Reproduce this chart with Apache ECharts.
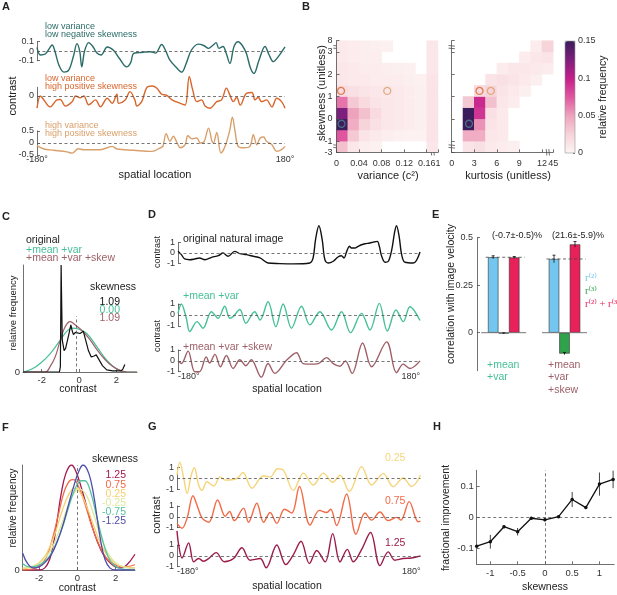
<!DOCTYPE html>
<html>
<head>
<meta charset="utf-8">
<script src="https://cdn.jsdelivr.net/npm/echarts@6/dist/echarts.min.js"></script>
<style>
  html, body { margin: 0; padding: 0; background: #fff; }
  #fig { width: 617px; height: 595px; }
</style>
</head>
<body>
<div id="fig"></div>
<script>
// ---------- data ----------
// A: example contrast traces, [spatial location (deg), contrast]
const traceLowVarNegSkew = [[-180,0.04],[-175,-0.04],[-168,-0.03],[-162,0.03],[-158,0.065],[-154,0.0],[-148,-0.15],[-141,-0.22],[-134,-0.2],[-127,-0.05],[-122,0.08],[-118,0.0],[-115,-0.165],[-111,0.0],[-105,0.09],[-99,0.05],[-93,-0.02],[-87,-0.04],[-78,0.045],[-69,0.01],[-60,-0.08],[-50,-0.165],[-44,-0.12],[-40,-0.025],[-32,-0.015],[-25,-0.01],[-15,-0.005],[-8,-0.02],[1,0.07],[7,0.0],[13,-0.095],[22,-0.17],[30,-0.22],[37,-0.12],[44,0.01],[54,0.075],[62,0.06],[69,0.03],[75,0.06],[80,0.09],[84,0.03],[90,0.05],[95,-0.03],[100,-0.13],[106,0.05],[112,0.1],[118,0.06],[124,-0.025],[130,-0.18],[135,-0.235],[142,-0.1],[151,0.05],[157,-0.04],[163,-0.11],[170,-0.06],[180,0.045]];
const traceLowVarPosSkew = [[-180,-0.28],[-175,0],[-170,-0.09],[-161,-0.25],[-151,-0.09],[-146,-0.08],[-139,-0.23],[-129,-0.13],[-124,0],[-117,-0.04],[-112,0],[-105,-0.2],[-95,-0.09],[-88,-0.25],[-78,-0.05],[-71,-0.17],[-64,0.04],[-61.5,-0.17],[-52,-0.09],[-45,0.1],[-38,-0.09],[-35,-0.23],[-28,-0.13],[-20.5,0.2],[-13,0.23],[-6,0.18],[1,0.04],[8,0.02],[16,-0.09],[28,-0.17],[35,-0.21],[41,0.45],[46,0.14],[52,-0.13],[59,-0.09],[64,-0.23],[71,-0.28],[81,-0.13],[88,-0.09],[95,0.18],[100,0.02],[105,-0.13],[110,-0.03],[115,-0.21],[124,0.06],[132,0.08],[136.5,-0.09],[141,-0.03],[146,-0.13],[153,-0.09],[161,-0.25],[168,-0.05],[175,-0.13],[180,-0.28]];
const traceHighVarPosSkew = [[-180,-0.11],[-170,-0.25],[-156,-0.3],[-136.5,-0.37],[-129,-0.42],[-120,-0.24],[-112,-0.28],[-88,-0.28],[-71,-0.14],[-64,-0.25],[-40,-0.3],[-13,-0.35],[-1,-0.2],[2.7,-0.14],[7.5,0.39],[13,0.07],[18,0.28],[23,0.03],[28,-0.2],[35,-0.07],[39,0.3],[45,0.17],[52,0.21],[57,0],[62,0.03],[69,0.62],[74,0.07],[76,0],[81,0.44],[87,-0.42],[93,-0.14],[100,0.55],[103.6,1.08],[107.5,0.49],[112,-0.14],[120,-0.2],[129,-0.14],[134,0.35],[139,-0.07],[144,0.21],[149,0.25],[153,0.07],[161,-0.07],[168,-0.35],[175,-0.28],[180,-0.14]];

// B: 2-D histograms, bin edges and relative frequency (rows = skewness bins, bottom to top)
const varEdges = [0, 0.02, 0.04, 0.06, 0.08, 0.10, 0.12, 0.14, 0.16, 1];
const kurtEdges = [0, 1.5, 3, 4.5, 6, 7.5, 9, 10.5, 12, 45];
const skewEdges = [-3, -1, -0.5, 0, 0.5, 1, 1.5, 2, 2.5, 3, 8];
const varTickIdx = [0, 2, 4, 6, 8, 9];
const kurtTickIdx = [0, 2, 4, 6, 8, 9];
const skewTickIdx = [0, 1, 3, 5, 7, 9, 10];
const histVarSkew = [
  [0.035, 0.01, 0.005, 0.003, 0, 0, 0, 0, 0.01],
  [0.075, 0.03, 0.012, 0.008, 0.005, 0.003, 0.002, 0.002, 0.012],
  [0.15, 0.045, 0.025, 0.015, 0.01, 0.008, 0.006, 0.004, 0.012],
  [0.125, 0.05, 0.035, 0.02, 0.01, 0.008, 0.006, 0.004, 0.012],
  [0.065, 0.03, 0.02, 0.012, 0.01, 0.008, 0.006, 0.004, 0.012],
  [0.02, 0.015, 0.012, 0.01, 0.01, 0.008, 0.006, 0.004, 0.012],
  [0.01, 0.008, 0.008, 0.006, 0.006, 0.006, 0.004, 0.003, 0.012],
  [0.01, 0.008, 0.006, 0.006, 0.005, 0.004, 0.003, 0, 0.01],
  [0.008, 0.006, 0.005, 0.005, 0, 0, 0, 0, 0.01],
  [0.008, 0.006, 0.005, 0.004, 0.003, 0, 0, 0, 0.01]
];
const histKurtSkew = [
  [0, 0.012, 0.015, 0.008, 0.006, 0.004, 0, 0, 0],
  [0, 0.045, 0.045, 0.01, 0.008, 0, 0, 0, 0],
  [0, 0.15, 0.055, 0.012, 0.008, 0, 0, 0, 0],
  [0, 0.15, 0.09, 0.015, 0.008, 0, 0, 0, 0],
  [0, 0.03, 0.095, 0.035, 0.01, 0.006, 0, 0, 0],
  [0, 0, 0.02, 0.025, 0.012, 0.008, 0.004, 0, 0],
  [0, 0, 0, 0.012, 0.015, 0.012, 0.008, 0.004, 0],
  [0, 0, 0, 0, 0.006, 0.01, 0.01, 0.008, 0.006],
  [0, 0, 0, 0, 0, 0, 0.006, 0.01, 0.012],
  [0, 0, 0, 0, 0, 0, 0, 0.006, 0.025]
];
const exampleVar = [0.009, 0.008, 0.09];
const exampleKurt = [2.3, 3.7, 5.2];
const exampleSkew = [-0.22, 1.25, 1.25];
const colorbarTicks = [0, 0.05, 0.1, 0.15];

// C: contrast distributions, [contrast, relative frequency]
const distOriginal = [[-3,0],[-1.05,0],[-1.0,0.05],[-0.96,1.0],[-0.9,0.3],[-0.8,0.2],[-0.72,0.22],[-0.55,0.35],[-0.44,0.44],[-0.36,0.38],[-0.3,0.35],[-0.2,0.37],[-0.12,0.38],[0.05,0.36],[0.23,0.38],[0.35,0.3],[0.5,0.2],[0.65,0.14],[0.8,0.15],[0.92,0.16],[1.05,0.12],[1.25,0.06],[1.48,0.02],[1.8,0.01],[2.25,0.01],[2.35,0.03],[2.45,0.07]];
const distMeanVar = [[-3,0],[-2.88,0.005],[-2.5,0.03],[-2.08,0.08],[-1.55,0.17],[-1.0,0.3],[-0.66,0.38],[-0.39,0.41],[0,0.4],[0.41,0.36],[0.94,0.24],[1.48,0.11],[2.0,0.03],[2.54,0.0],[3.1,0]];
const distMeanVarSkew = [[-3,0],[-1.8,0.0],[-1.55,0.05],[-1.28,0.14],[-1.0,0.3],[-0.75,0.42],[-0.48,0.47],[-0.2,0.44],[0.14,0.39],[0.55,0.31],[1.08,0.18],[1.6,0.08],[2.13,0.02],[2.6,0],[3.1,0]];
const distMeanLine = [[-0.15, 0], [-0.15, 0.52]];
const cSkewValues = ['1.09', '0.00', '1.09'];

// D: synthetic images
const traceOriginal = [[-180,0.16],[-175,-0.16],[-170,-0.58],[-162.6,-0.65],[-155,-0.58],[-148,-0.48],[-140,-0.65],[-130,-0.42],[-120,-0.26],[-113,0],[-105.5,-0.32],[-95.6,0.16],[-88,-0.06],[-78,-0.16],[-68,-0.32],[-58,-0.48],[-46,-0.97],[-28.5,-1.03],[-8.7,-1.06],[16,-0.97],[21,-0.48],[24.6,1.3],[29.6,2.65],[34.5,1.3],[38.5,-0.65],[43.5,-0.97],[51,-0.8],[58,-0.39],[63,-0.26],[67,-0.48],[71,0.16],[75,0.65],[78,0.48],[83,0.48],[88,0.65],[93,0.8],[98,0.9],[105.5,0.97],[110.5,1.06],[116.5,1.13],[119.5,0.65],[123,-0.32],[128,-0.9],[133,-0.8],[138,0.32],[142,1.94],[145,2.65],[149,1.6],[152.7,-0.16],[157.7,-0.9],[170,-0.97],[180,0.1]];
const traceMeanVar = [[-180,0.15],[-175,1.0],[-167.6,-0.3],[-162.6,-1.5],[-151.7,-0.6],[-142.8,-1.2],[-130.3,0.3],[-120.4,-0.3],[-110.5,0.8],[-103,-0.3],[-98,-0.15],[-88,0.5],[-79,-0.75],[-66,0.3],[-58,-0.45],[-46,1.2],[-34.5,-1.06],[-23.6,1.0],[-11.2,-1.2],[3.7,0.8],[16.2,-0.9],[31,0.3],[48.4,-1.36],[63.3,0.3],[76.7,-1.6],[93,0.15],[105.5,-1.36],[119.5,1.06],[131.4,-1.45],[144.3,0.45],[155.2,-0.6],[165,0.75],[180,-0.5]];
const traceMeanVarSkew = [[-180,0],[-175,-0.25],[-165,0.9],[-155,-1.0],[-148,-1.0],[-138,0.37],[-133,-0.2],[-125,0.6],[-117,-0.55],[-108,0.5],[-98,-0.7],[-88,0.1],[-79,-0.45],[-71,0.1],[-56,-1.5],[-46,-0.25],[-36,-1.15],[-18.6,0.05],[-3.7,0.75],[6.2,-0.25],[18.6,-0.3],[28.6,-0.25],[41,0.3],[51,-0.25],[61,-0.5],[69,0],[79,-1.15],[94.6,1.65],[108,-0.55],[130.4,1.75],[145,-1.1],[155,-0.3],[165,-0.7],[180,0]];

// E: correlation with image velocity
const eGroups = ['+mean +var', '+mean +var +skew'];
const r2Vals = [0.397, 0.388];
const r3Vals = [-0.004, -0.11];
const r23Vals = [0.396, 0.465];
const r2Err = [0.008, 0.02];
const r3Err = [0.003, 0.006];
const r23Err = [0.005, 0.015];
const eNotes = ['(-0.7\u00b1-0.5)%', '(21.6\u00b1-5.9)%'];

// F: distributions by skewness
const fSkewLabels = ['1.25', '0.75', '0.25', '-0.25', '-0.75', '-1.25'];
const fDists = [
  [[-2.86,0],[-2.0,0.0],[-1.7,0.02],[-1.45,0.1],[-1.25,0.25],[-1.05,0.48],[-0.85,0.72],[-0.6,0.92],[-0.3,1.0],[-0.1,0.95],[0.15,0.82],[0.45,0.63],[0.75,0.43],[1.05,0.27],[1.35,0.15],[1.7,0.07],[2.0,0.03],[2.3,0.02],[2.6,0.05],[3.02,0.15]],
  [[-2.86,0],[-2.3,0.01],[-1.9,0.05],[-1.6,0.13],[-1.3,0.3],[-1.0,0.52],[-0.7,0.74],[-0.4,0.85],[-0.2,0.86],[0.05,0.8],[0.35,0.66],[0.7,0.45],[1.0,0.3],[1.35,0.16],[1.7,0.08],[2.1,0.04],[2.5,0.03],[3.02,0.05]],
  [[-2.86,0.01],[-2.4,0.03],[-2.0,0.07],[-1.6,0.16],[-1.2,0.33],[-0.8,0.56],[-0.45,0.72],[-0.15,0.78],[0.15,0.74],[0.5,0.6],[0.9,0.4],[1.3,0.22],[1.7,0.11],[2.1,0.05],[2.5,0.03],[3.02,0.02]],
  [[-2.86,0.02],[-2.5,0.03],[-2.1,0.05],[-1.7,0.11],[-1.3,0.22],[-0.9,0.4],[-0.5,0.6],[-0.15,0.74],[0.1,0.77],[0.45,0.72],[0.8,0.56],[1.2,0.33],[1.6,0.16],[2.0,0.07],[2.4,0.03],[3.02,0.01]],
  [[-2.86,0.06],[-2.5,0.03],[-2.1,0.04],[-1.7,0.08],[-1.35,0.16],[-1.0,0.3],[-0.7,0.45],[-0.35,0.66],[-0.05,0.8],[0.2,0.85],[0.4,0.85],[0.7,0.74],[1.0,0.52],[1.3,0.3],[1.6,0.13],[1.9,0.05],[2.3,0.01],[3.02,0]],
  [[-2.86,0.16],[-2.6,0.06],[-2.3,0.02],[-2.0,0.03],[-1.7,0.07],[-1.35,0.15],[-1.05,0.27],[-0.75,0.43],[-0.45,0.63],[-0.15,0.82],[0.1,0.95],[0.3,1.0],[0.6,0.92],[0.85,0.72],[1.05,0.48],[1.25,0.25],[1.45,0.1],[1.7,0.02],[2.0,0],[3.02,0]]
];

// G: synthetic images with set skewness
const gSkewLabels = ['0.25', '0.75', '1.25'];
const traceSkew025 = [[-180,0.3],[-176,1.5],[-170,0],[-165,-1.4],[-159,0.3],[-154.4,1.0],[-148,-0.6],[-143,-1.1],[-135.7,-0.3],[-126,-0.7],[-116,0.15],[-108.7,-0.15],[-91.5,0],[-82.6,0.55],[-69.3,-0.9],[-52,0.25],[-42,0.15],[-31.5,0.9],[-22.6,0.75],[-8,-1.1],[7,0.5],[21.6,-0.6],[36.4,0.5],[50.2,-0.35],[61,0.3],[74.8,-1.2],[93,1.1],[107.7,-0.6],[125,0.45],[139.7,-0.75],[154.4,0.05],[166.7,-0.75],[180,0.3]];
const traceSkew075 = [[-180,-0.6],[-172.6,-1.05],[-165,-0.1],[-156.4,1.95],[-150.5,1.1],[-143,-0.1],[-133,-0.5],[-120,1.55],[-108.7,0.05],[-102.3,0.5],[-95.4,-0.35],[-81.6,0.8],[-74.3,-0.5],[-62,1.25],[-52,-0.5],[-42.3,0.4],[-32.5,-0.6],[-21,0.7],[-10.3,0.35],[1,2.8],[16.7,-0.75],[30.5,0.6],[41.3,0.4],[47.2,0.7],[56,-0.8],[70.8,2.1],[84.6,-1.6],[98,0.35],[107.7,-0.3],[120,0.45],[132.3,-0.35],[144.6,-0.05],[151,-0.3],[163.3,1.4],[176.6,-0.45],[180,-0.4]];
const traceSkew125 = [[-180,2.3],[-177.5,1.0],[-172.6,-0.2],[-162.8,1.2],[-155.4,-0.55],[-148,-0.25],[-140.7,-0.5],[-133.3,-0.25],[-122,0.3],[-110.2,-0.55],[-96.4,-0.25],[-84,0.75],[-71.8,-0.4],[-57,-0.25],[-48.2,-1.1],[-32.5,1.0],[-19.2,-0.8],[-8,0.1],[3.4,1.35],[15.7,-0.7],[26.6,0.5],[39,-0.55],[50.2,2.05],[61,-0.55],[71.8,0.6],[80.7,-0.55],[93,0.6],[106.2,2.15],[120,-0.9],[132.3,0.37],[142,-0.4],[154.4,-0.25],[166.7,-0.2],[180,0]];

// H: fractional improvement vs skewness
const hSkew = [-1.25, -1, -0.75, -0.5, -0.25, 0, 0.25, 0.5, 0.75, 1, 1.25];
const hImprove = [-0.092, -0.078, -0.03, -0.046, -0.003, -0.008, 0.002, 0.057, 0.031, 0.106, 0.121];
const hErr = [0.004, 0.022, 0.005, 0.012, 0.004, 0.005, 0.003, 0.024, 0.005, 0.037, 0.028];

// ---------- styling ----------
const FONT = "'Liberation Sans', Arial, Helvetica, sans-serif";
const SERIF = "'Liberation Serif', 'DejaVu Serif', 'Times New Roman', serif";
const AX = '#4d4d4d';
const TEAL = '#2b6c68', ORANGE = '#d8652b', TAN = '#d9a06b';
const GREEN = '#45bf98', MAUVE = '#9e5f67';
const exampleColors = ['#537f8f', ORANGE, TAN];
const fColors = ['#a0184e', '#f26a47', '#f6d06c', '#dde79c', '#56c3a0', '#4e4ca8'];
const gColors = ['#f5d47a', '#f26a47', '#9b1b4b'];
const heatColors = ['#fdf4f4', '#f7d3da', '#eea3bd', '#e0559f', '#c41f8a', '#7d1f7c', '#3b1c5c'];

const grids = [], xAxes = [], yAxes = [], series = [], texts = [];

function merge(a, b) {
  for (const k in b) {
    const v = b[k];
    if (v && typeof v === 'object' && !Array.isArray(v) && a[k] && typeof a[k] === 'object') merge(a[k], v);
    else a[k] = v;
  }
  return a;
}
function addGrid(r) {
  grids.push(Object.assign({containLabel: false, outerBoundsMode: 'none'}, r));
  return grids.length - 1;
}
function baseAxis(g) {
  return {
    gridIndex: g, type: 'value',
    axisLine: {show: true, onZero: false, lineStyle: {color: AX, width: 0.8}},
    axisTick: {show: true, inside: true, length: 3, lineStyle: {color: AX, width: 0.8}},
    axisLabel: {show: true, fontSize: 9, color: '#333', fontFamily: FONT, margin: 3},
    splitLine: {show: false}
  };
}
function dashMark(items) {
  return {silent: true, symbol: ['none', 'none'], label: {show: false}, emphasis: {disabled: true},
    lineStyle: {color: '#555', type: [3, 2.5], width: 0.8}, data: items};
}
function txt(x, y, s, o) {
  o = o || {};
  texts.push({type: 'text', x, y, rotation: o.rot || 0, silent: true, z: 20,
    style: {text: s, fontSize: o.size || 10, fill: o.color || '#222', fontFamily: o.font || FONT,
      fontWeight: o.bold ? 'bold' : 'normal', align: o.align || 'left', verticalAlign: 'middle'}});
}
// axis break symbol ("=" across an axis line)
function axisBreak(x, y, vertical) {
  const w = 3.2, g = 1.3;
  const lines = vertical
    ? [[x - w, y - g, x + w, y - g + 0.6], [x - w, y + g, x + w, y + g + 0.6]]
    : [[x - g, y - w, x - g + 0.6, y + w], [x + g, y - w, x + g + 0.6, y + w]];
  texts.push({type: 'group', silent: true, z: 20, children: [
    {type: 'rect', shape: vertical ? {x: x - w, y: y - g, width: 2 * w, height: 2 * g} : {x: x - g, y: y - w, width: 2 * g, height: 2 * w},
      style: {fill: '#fff'}},
    ...lines.map(l => ({type: 'line', shape: {x1: l[0], y1: l[1], x2: l[2], y2: l[3]}, style: {stroke: AX, lineWidth: 0.8}}))
  ]});
}
function binPos(v, edges) {
  for (let i = 0; i < edges.length - 1; i++) {
    if (v < edges[i + 1]) return i + (v - edges[i]) / (edges[i + 1] - edges[i]);
  }
  return edges.length - 1;
}

function tracePanel(rect, lim, data, color, showX, alignEnds) {
  const g = addGrid(rect);
  const xi = xAxes.push(merge(baseAxis(g), {
    min: -180, max: 180,
    axisLine: {show: false}, axisTick: {show: false},
    axisLabel: {show: showX, customValues: [-180, 180], formatter: v => v + '\u00b0', margin: 0,
      alignMinLabel: alignEnds ? 'left' : 'center', alignMaxLabel: alignEnds ? 'right' : 'center'}
  })) - 1;
  const yi = yAxes.push(merge(baseAxis(g), {
    min: -lim, max: lim,
    axisTick: {customValues: [-lim, 0, lim]},
    axisLabel: {customValues: [-lim, 0, lim]}
  })) - 1;
  series.push({type: 'line', xAxisIndex: xi, yAxisIndex: yi, data, clip: false, smooth: 0.35,
    symbol: 'none', silent: true, lineStyle: {color, width: 1.4},
    markLine: dashMark([{yAxis: 0}])});
}

// ---------- panel A ----------
tracePanel({left: 37, top: 41.7, width: 248, height: 19}, 0.1, traceLowVarNegSkew, TEAL, false, false);
tracePanel({left: 37, top: 87.3, width: 248, height: 17.4}, 0.2, traceLowVarPosSkew, ORANGE, false, false);
tracePanel({left: 37, top: 131, width: 248, height: 24}, 0.5, traceHighVarPosSkew, TAN, true, false);
txt(2, 7, 'A', {bold: true, size: 11});
txt(45, 26.7, 'low variance', {color: TEAL, size: 9});
txt(45, 34.2, 'low negative skewness', {color: TEAL, size: 9});
txt(45, 78.3, 'low variance', {color: ORANGE, size: 9});
txt(45, 86.3, 'high positive skewness', {color: ORANGE, size: 9});
txt(45, 126, 'high variance', {color: TAN, size: 9});
txt(45, 133.7, 'high positive skewness', {color: TAN, size: 9});
txt(13, 96, 'contrast', {rot: Math.PI / 2, align: 'center', size: 11});
txt(155, 175, 'spatial location', {align: 'center', size: 11});

// ---------- panel B ----------
const sHeat = [];
const HEAT_TOP = 40.7, HEAT_H = 111.6, HEAT_W = 101.5;
function heatPanel(left, edges, tickIdx, hist, exampleX, showY) {
  const rect = {left, top: HEAT_TOP, width: HEAT_W, height: HEAT_H};
  const gh = addGrid(rect);
  const xh = xAxes.push({gridIndex: gh, type: 'category', show: false, data: edges.slice(0, -1).map(String)}) - 1;
  const yh = yAxes.push({gridIndex: gh, type: 'category', show: false, data: skewEdges.slice(0, -1).map(String)}) - 1;
  const cells = [];
  hist.forEach((row, r) => row.forEach((v, c) => { if (v > 0) cells.push([c, r, v]); }));
  sHeat.push(series.length);
  series.push({type: 'heatmap', xAxisIndex: xh, yAxisIndex: yh, data: cells, silent: true,
    itemStyle: {borderWidth: 0}, emphasis: {disabled: true}});
  const go = addGrid(rect);
  const xo = xAxes.push(merge(baseAxis(go), {
    min: 0, max: edges.length - 1, z: 5,
    axisTick: {customValues: tickIdx}, axisLabel: {customValues: tickIdx, formatter: v => String(edges[v]), margin: 7}
  })) - 1;
  const yo = yAxes.push(merge(baseAxis(go), {
    min: 0, max: skewEdges.length - 1, z: 5,
    axisTick: {customValues: skewTickIdx},
    axisLabel: {show: showY, customValues: skewTickIdx, formatter: v => String(skewEdges[v]), margin: 4}
  })) - 1;
  series.push({type: 'scatter', xAxisIndex: xo, yAxisIndex: yo, symbolSize: 7, silent: true, z: 6,
    itemStyle: {color: 'rgba(0,0,0,0)', borderWidth: 1.3},
    data: exampleX.map((v, i) => ({value: [binPos(v, edges), binPos(exampleSkew[i], skewEdges)],
      itemStyle: {borderColor: exampleColors[i]}}))});
  // breaks on the compressed outer bins
  const cw = HEAT_W / (edges.length - 1), rh = HEAT_H / (skewEdges.length - 1);
  axisBreak(left, HEAT_TOP + HEAT_H - rh * 0.55, true);
  axisBreak(left, HEAT_TOP + rh * 0.55, true);
  axisBreak(left + HEAT_W - cw * 0.5, HEAT_TOP + HEAT_H, false);
}
heatPanel(336.5, varEdges, varTickIdx, histVarSkew, exampleVar, true);
heatPanel(451.7, kurtEdges, kurtTickIdx, histKurtSkew, exampleKurt, false);

const gCB = addGrid({left: 565, top: 41, width: 10, height: 112, show: true, borderColor: '#999', borderWidth: 0.6, z: 10, backgroundColor: 'rgba(0,0,0,0)'});
xAxes.push({gridIndex: gCB, type: 'value', show: false});
yAxes.push(merge(baseAxis(gCB), {
  position: 'right', min: 0, max: 0.15, axisLine: {show: false},
  axisTick: {customValues: colorbarTicks, length: 2}, axisLabel: {customValues: colorbarTicks, margin: 3}
}));
txt(302, 7, 'B', {bold: true, size: 11});
txt(322, 93, 'skewness (unitless)', {rot: Math.PI / 2, align: 'center', size: 11});
txt(388, 176, 'variance (c\u00b2)', {align: 'center', size: 11});
txt(508, 176, 'kurtosis (unitless)', {align: 'center', size: 11});
txt(603, 97, 'relative frequency', {rot: Math.PI / 2, align: 'center', size: 10.5});

// ---------- panel C ----------
const gC = addGrid({left: 23, top: 265, width: 114, height: 107});
const xC = xAxes.push(merge(baseAxis(gC), {min: -3, max: 3.1,
  axisTick: {customValues: [-2, 0, 2]}, axisLabel: {customValues: [-2, 0, 2], fontSize: 9.5}})) - 1;
const yC = yAxes.push(merge(baseAxis(gC), {min: 0, max: 1,
  axisTick: {customValues: [0]}, axisLabel: {customValues: [0], fontSize: 9.5}})) - 1;
[[distMeanVar, GREEN, 0.4], [distMeanVarSkew, MAUVE, 0.4], [distOriginal, '#111', 0]].forEach(([d, c, sm]) => {
  series.push({type: 'line', xAxisIndex: xC, yAxisIndex: yC, data: d, smooth: sm, symbol: 'none', silent: true,
    lineStyle: {color: c, width: 1.2}});
});
series.push({type: 'line', xAxisIndex: xC, yAxisIndex: yC, data: [], silent: true,
  markLine: dashMark([[{coord: distMeanLine[0]}, {coord: distMeanLine[1]}]])});
txt(2, 217, 'C', {bold: true, size: 11});
txt(26, 240, 'original', {size: 10.5});
txt(26, 249.7, '+mean +var', {size: 10.5, color: GREEN});
txt(26, 258.3, '+mean +var +skew', {size: 10.5, color: MAUVE});
txt(136, 287, 'skewness', {align: 'right', size: 10.5});
[['#111', 302], [GREEN, 310], [MAUVE, 318]].forEach(([c, y], i) => txt(120, y, cSkewValues[i], {align: 'right', size: 10.5, color: c}));
txt(13, 313, 'relative frequency', {rot: Math.PI / 2, align: 'center', size: 9.5});
txt(78, 389, 'contrast', {align: 'center', size: 10.5});

// ---------- panel D ----------
tracePanel({left: 178, top: 242.7, width: 242, height: 20.6}, 1, traceOriginal, '#111', false, true);
tracePanel({left: 178, top: 304, width: 242, height: 22}, 1, traceMeanVar, GREEN, false, true);
tracePanel({left: 178, top: 350, width: 242, height: 21.7}, 1, traceMeanVarSkew, MAUVE, true, true);
txt(148, 215, 'D', {bold: true, size: 11});
txt(183, 239, 'original natural image', {size: 10.5});
txt(183, 296, '+mean +var', {size: 10.5, color: GREEN});
txt(183, 346.7, '+mean +var +skew', {size: 10.5, color: MAUVE});
txt(158, 252, 'contrast', {rot: Math.PI / 2, align: 'center', size: 9});
txt(158, 336, 'contrast', {rot: Math.PI / 2, align: 'center', size: 9});
txt(287, 389, 'spatial location', {align: 'center', size: 10.5});

// ---------- panel E ----------
const gE = addGrid({left: 473.3, top: 237.7, width: 121.6, height: 133});
const xE = xAxes.push({gridIndex: gE, type: 'category', data: eGroups, axisLine: {show: false},
  axisTick: {show: false}, axisLabel: {show: false}, splitLine: {show: false}}) - 1;
const yE = yAxes.push(merge(baseAxis(gE), {min: -0.2, max: 0.5, offset: -3.7,
  axisTick: {customValues: [0, 0.25, 0.5]}, axisLabel: {customValues: [0, 0.25, 0.5], margin: 4}})) - 1;
[[r2Vals, '#72c6ef'], [r3Vals, '#2fa24b'], [r23Vals, '#e9215b']].forEach(([vals, c]) => {
  series.push({type: 'bar', xAxisIndex: xE, yAxisIndex: yE, data: vals, barWidth: 10.5, barGap: '0%',
    silent: true, itemStyle: {color: c, borderColor: '#333', borderWidth: 0.6}});
});
series.push({type: 'custom', xAxisIndex: xE, yAxisIndex: yE, silent: true, z: 4,
  data: eGroups.map((g, i) => [i, r2Vals[i]]),
  renderItem(params, api) {
    const c0 = api.coord([api.value(0), 0]);
    const c1 = api.coord([api.value(0), api.value(1)]);
    return {type: 'group', children: [
      {type: 'line', shape: {x1: c0[0] - 22.5, y1: c0[1], x2: c0[0] + 22.5, y2: c0[1]}, style: {stroke: '#777', lineWidth: 1}},
      {type: 'line', shape: {x1: c1[0] - 18, y1: c1[1], x2: c1[0] + 21, y2: c1[1]}, style: {stroke: '#444', lineWidth: 0.8, lineDash: [3, 2.5]}}
    ]};
  }});
const eErrData = [];
[[r2Vals, r2Err], [r3Vals, r3Err], [r23Vals, r23Err]].forEach(([vals, errs], k) =>
  vals.forEach((v, i) => eErrData.push([i, k, v, errs[i]])));
series.push({type: 'custom', xAxisIndex: xE, yAxisIndex: yE, silent: true, z: 5, data: eErrData,
  encode: {x: 0, y: 2},
  renderItem(params, api) {
    const i = api.value(0), k = api.value(1), v = api.value(2), e = api.value(3);
    const a = api.coord([i, v - e]), b = api.coord([i, v + e]);
    const x = a[0] + (k - 1) * 10.5;
    return {type: 'group', children: [
      {type: 'line', shape: {x1: x, y1: a[1], x2: x, y2: b[1]}, style: {stroke: '#111', lineWidth: 0.8}},
      {type: 'line', shape: {x1: x - 1.5, y1: b[1], x2: x + 1.5, y2: b[1]}, style: {stroke: '#111', lineWidth: 0.8}}
    ]};
  }});
txt(432, 215, 'E', {bold: true, size: 11});
txt(451, 294, 'correlation with image velocity', {rot: Math.PI / 2, align: 'center', size: 10.5});
txt(517, 236, eNotes[0], {align: 'center', size: 9});
txt(578, 236, eNotes[1], {align: 'center', size: 9});
txt(585, 278, 'r\u207d\u00b2\u207e', {font: SERIF, size: 10.5, color: '#72c6ef'});
txt(585, 291, 'r\u207d\u00b3\u207e', {font: SERIF, size: 10.5, color: '#2fa24b'});
txt(585, 304, 'r\u207d\u00b2\u207e + r\u207d\u00b3\u207e', {font: SERIF, size: 10.5, color: '#e9215b'});
txt(487, 365, '+mean', {size: 10.5, color: GREEN});
txt(487, 377.5, '+var', {size: 10.5, color: GREEN});
txt(548, 365, '+mean', {size: 10.5, color: MAUVE});
txt(548, 377.5, '+var', {size: 10.5, color: MAUVE});
txt(548, 390, '+skew', {size: 10.5, color: MAUVE});

// ---------- panel F ----------
const gF = addGrid({left: 22.7, top: 465, width: 112.3, height: 105});
const xF = xAxes.push(merge(baseAxis(gF), {min: -2.86, max: 3.02,
  axisTick: {customValues: [-2, 0, 2]}, axisLabel: {customValues: [-2, 0, 2], fontSize: 9.5}})) - 1;
const yF = yAxes.push(merge(baseAxis(gF), {min: 0, max: 1,
  axisTick: {customValues: [0]}, axisLabel: {customValues: [0], fontSize: 9.5}})) - 1;
fDists.forEach((d, i) => {
  series.push({type: 'line', xAxisIndex: xF, yAxisIndex: yF, data: d, smooth: 0.4, symbol: 'none', silent: true,
    lineStyle: {color: fColors[i], width: 1.3}});
});
series.push({type: 'line', xAxisIndex: xF, yAxisIndex: yF, data: [], silent: true, markLine: dashMark([{xAxis: 0}])});
txt(2, 428, 'F', {bold: true, size: 11});
txt(138, 459, 'skewness', {align: 'right', size: 10.5});
[475.3, 484.7, 493.7, 502.8, 512, 521.3].forEach((y, i) => txt(126, y, fSkewLabels[i], {align: 'right', size: 10.5, color: fColors[i]}));
txt(13, 508, 'relative frequency', {rot: Math.PI / 2, align: 'center', size: 10});
txt(77.3, 587.7, 'contrast', {align: 'center', size: 10.5});

// ---------- panel G ----------
tracePanel({left: 177, top: 467.7, width: 243.5, height: 21.6}, 1, traceSkew025, gColors[0], false, true);
tracePanel({left: 177, top: 506, width: 243.5, height: 21.7}, 1, traceSkew075, gColors[1], false, true);
tracePanel({left: 177, top: 545, width: 243.5, height: 21.7}, 1, traceSkew125, gColors[2], true, true);
txt(148, 427, 'G', {bold: true, size: 11});
[458, 501, 543].forEach((y, i) => txt(385, y, gSkewLabels[i], {size: 10.5, color: gColors[i]}));
txt(157, 515, 'contrast', {rot: Math.PI / 2, align: 'center', size: 10.5});
txt(287, 586, 'spatial location', {align: 'center', size: 10.5});

// ---------- panel H ----------
const gH = addGrid({left: 476.7, top: 470.3, width: 137.5, height: 94});
const xH = xAxes.push(merge(baseAxis(gH), {min: -1.25, max: 1.27,
  axisTick: {customValues: [-1, -0.5, 0, 0.5, 1]}, axisLabel: {customValues: [-1, -0.5, 0, 0.5, 1], fontSize: 9.5, margin: 4}})) - 1;
const yH = yAxes.push(merge(baseAxis(gH), {min: -0.15, max: 0.15,
  axisTick: {customValues: [-0.1, 0, 0.1]}, axisLabel: {customValues: [-0.1, 0, 0.1], fontSize: 9.5}})) - 1;
series.push({type: 'line', xAxisIndex: xH, yAxisIndex: yH, data: hSkew.map((s, i) => [s, hImprove[i]]),
  symbol: 'circle', symbolSize: 3.5, silent: true, z: 5,
  itemStyle: {color: '#111'}, lineStyle: {color: '#111', width: 1.3},
  markLine: dashMark([{yAxis: 0}, {xAxis: 0}])});
series.push({type: 'custom', xAxisIndex: xH, yAxisIndex: yH, silent: true, z: 4,
  data: hSkew.map((s, i) => [s, hImprove[i], hErr[i]]),
  renderItem(params, api) {
    const a = api.coord([api.value(0), api.value(1) - api.value(2)]);
    const b = api.coord([api.value(0), api.value(1) + api.value(2)]);
    return {type: 'line', shape: {x1: a[0], y1: a[1], x2: b[0], y2: b[1]}, style: {stroke: '#111', lineWidth: 0.8}};
  }});
txt(433, 427, 'H', {bold: true, size: 11});
txt(446, 518, 'fractional improvement', {rot: Math.PI / 2, align: 'center', size: 10.5});
txt(545, 587, 'skewness', {align: 'center', size: 10.5});

// ---------- chart ----------
const chart = echarts.init(document.getElementById('fig'), null, {renderer: 'canvas'});
chart.setOption({
  animation: false,
  backgroundColor: '#fff',
  textStyle: {fontFamily: FONT},
  tooltip: {show: false},
  grid: grids,
  xAxis: xAxes,
  yAxis: yAxes,
  visualMap: [{
    type: 'continuous', min: 0, max: 0.15, seriesIndex: sHeat, calculable: false, show: true,
    orient: 'vertical', left: 565, top: 41, itemWidth: 10, itemHeight: 112, padding: 0,
    text: null, inRange: {color: heatColors}, hoverLink: false
  }],
  series,
  graphic: {elements: texts}
});
</script>
</body>
</html>
